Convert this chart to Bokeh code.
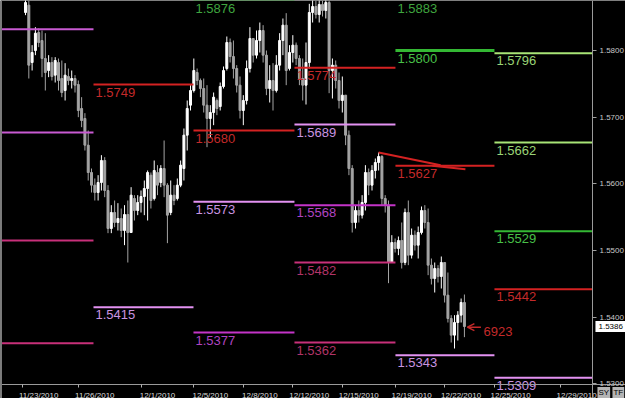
from bokeh.plotting import figure
from bokeh.models import (Range1d, FixedTicker, PrintfTickFormatter, ColumnDataSource,
                          Label, Arrow, OpenHead, Span)
from bokeh.core.properties import value
from bokeh.embed import file_html
from bokeh.resources import INLINE

# ---------------- data (4-hour bars) ----------------
opens = [1.5857, 1.5868, 1.5782, 1.5800, 1.5827, 1.5815, 1.5788, 1.5770, 1.5782, 1.5763,
         1.5782, 1.5758, 1.5740, 1.5761, 1.5755, 1.5758, 1.5749, 1.5713, 1.5698, 1.5658,
         1.5617, 1.5598, 1.5587, 1.5602, 1.5635, 1.5590, 1.5533, 1.5557, 1.5542, 1.5548,
         1.5530, 1.5554, 1.5527, 1.5578, 1.5560, 1.5572, 1.5581, 1.5593, 1.5613, 1.5578,
         1.5617, 1.5602, 1.5623, 1.5598, 1.5557, 1.5583, 1.5578, 1.5598, 1.5623, 1.5673,
         1.5718, 1.5740, 1.5767, 1.5755, 1.5743, 1.5718, 1.5698, 1.5707, 1.5725, 1.5716,
         1.5746, 1.5773, 1.5812, 1.5791, 1.5773, 1.5748, 1.5710, 1.5725, 1.5773, 1.5818,
         1.5793, 1.5815, 1.5830, 1.5793, 1.5743, 1.5755, 1.5740, 1.5778, 1.5815, 1.5838,
         1.5773, 1.5797, 1.5808, 1.5788, 1.5758, 1.5748, 1.5782, 1.5857, 1.5866, 1.5854,
         1.5869, 1.5860, 1.5872, 1.5770, 1.5778, 1.5755, 1.5725, 1.5733, 1.5673, 1.5623,
         1.5542, 1.5560, 1.5553, 1.5572, 1.5617, 1.5598, 1.5620, 1.5632, 1.5641, 1.5578,
         1.5568, 1.5482, 1.5512, 1.5503, 1.5515, 1.5482, 1.5557, 1.5493, 1.5523, 1.5508,
         1.5527, 1.5560, 1.5542, 1.5478, 1.5458, 1.5473, 1.5461, 1.5482, 1.5433, 1.5398,
         1.5373, 1.5392, 1.5403, 1.5422]
highs = [1.5880, 1.5875, 1.5808, 1.5835, 1.5833, 1.5830, 1.5826, 1.5793, 1.5790, 1.5790,
         1.5788, 1.5785, 1.5781, 1.5773, 1.5770, 1.5763, 1.5755, 1.5730, 1.5706, 1.5680,
         1.5623, 1.5608, 1.5613, 1.5643, 1.5640, 1.5598, 1.5568, 1.5575, 1.5571, 1.5563,
         1.5568, 1.5575, 1.5595, 1.5583, 1.5583, 1.5590, 1.5605, 1.5620, 1.5617, 1.5635,
         1.5628, 1.5628, 1.5665, 1.5601, 1.5605, 1.5598, 1.5608, 1.5635, 1.5683, 1.5725,
         1.5748, 1.5788, 1.5773, 1.5758, 1.5758, 1.5748, 1.5718, 1.5737, 1.5728, 1.5752,
         1.5776, 1.5821, 1.5818, 1.5815, 1.5778, 1.5761, 1.5733, 1.5785, 1.5835, 1.5818,
         1.5830, 1.5842, 1.5838, 1.5800, 1.5778, 1.5781, 1.5793, 1.5826, 1.5848, 1.5856,
         1.5808, 1.5823, 1.5812, 1.5793, 1.5788, 1.5812, 1.5870, 1.5878, 1.5875, 1.5880,
         1.5875, 1.5881, 1.5875, 1.5788, 1.5785, 1.5767, 1.5761, 1.5733, 1.5680, 1.5628,
         1.5568, 1.5575, 1.5583, 1.5628, 1.5623, 1.5628, 1.5638, 1.5647, 1.5643, 1.5583,
         1.5575, 1.5523, 1.5518, 1.5521, 1.5542, 1.5563, 1.5575, 1.5533, 1.5530, 1.5536,
         1.5566, 1.5568, 1.5563, 1.5488, 1.5482, 1.5478, 1.5491, 1.5482, 1.5467, 1.5403,
         1.5403, 1.5409, 1.5428, 1.5434]
lows = [1.5853, 1.5758, 1.5770, 1.5793, 1.5805, 1.5760, 1.5740, 1.5760, 1.5755, 1.5752,
        1.5740, 1.5730, 1.5725, 1.5748, 1.5743, 1.5737, 1.5700, 1.5685, 1.5650, 1.5605,
        1.5587, 1.5575, 1.5575, 1.5590, 1.5580, 1.5526, 1.5526, 1.5535, 1.5530, 1.5520,
        1.5508, 1.5482, 1.5527, 1.5545, 1.5553, 1.5557, 1.5553, 1.5545, 1.5563, 1.5575,
        1.5583, 1.5595, 1.5580, 1.5511, 1.5553, 1.5568, 1.5575, 1.5595, 1.5605, 1.5650,
        1.5710, 1.5737, 1.5748, 1.5730, 1.5707, 1.5655, 1.5670, 1.5688, 1.5703, 1.5710,
        1.5743, 1.5770, 1.5782, 1.5758, 1.5737, 1.5698, 1.5688, 1.5719, 1.5767, 1.5782,
        1.5788, 1.5797, 1.5782, 1.5733, 1.5722, 1.5710, 1.5737, 1.5770, 1.5793, 1.5748,
        1.5770, 1.5782, 1.5778, 1.5748, 1.5725, 1.5719, 1.5773, 1.5842, 1.5848, 1.5842,
        1.5851, 1.5848, 1.5736, 1.5728, 1.5743, 1.5713, 1.5707, 1.5658, 1.5613, 1.5527,
        1.5533, 1.5542, 1.5548, 1.5560, 1.5583, 1.5590, 1.5608, 1.5620, 1.5568, 1.5557,
        1.5451, 1.5482, 1.5497, 1.5493, 1.5473, 1.5478, 1.5478, 1.5488, 1.5500, 1.5488,
        1.5524, 1.5533, 1.5463, 1.5449, 1.5437, 1.5452, 1.5443, 1.5422, 1.5392, 1.5362,
        1.5353, 1.5365, 1.5392, 1.5370]
closes = [1.5872, 1.5778, 1.5797, 1.5826, 1.5812, 1.5788, 1.5767, 1.5782, 1.5761, 1.5785,
          1.5755, 1.5737, 1.5763, 1.5755, 1.5758, 1.5748, 1.5710, 1.5695, 1.5658, 1.5617,
          1.5598, 1.5587, 1.5602, 1.5635, 1.5590, 1.5533, 1.5557, 1.5542, 1.5548, 1.5530,
          1.5554, 1.5527, 1.5583, 1.5560, 1.5572, 1.5581, 1.5593, 1.5617, 1.5575, 1.5620,
          1.5598, 1.5623, 1.5598, 1.5553, 1.5583, 1.5575, 1.5598, 1.5628, 1.5673, 1.5713,
          1.5740, 1.5770, 1.5755, 1.5743, 1.5718, 1.5698, 1.5707, 1.5730, 1.5713, 1.5746,
          1.5770, 1.5812, 1.5791, 1.5773, 1.5748, 1.5710, 1.5725, 1.5773, 1.5818, 1.5793,
          1.5815, 1.5830, 1.5793, 1.5743, 1.5755, 1.5740, 1.5778, 1.5815, 1.5838, 1.5770,
          1.5797, 1.5808, 1.5788, 1.5758, 1.5748, 1.5782, 1.5857, 1.5866, 1.5854, 1.5869,
          1.5860, 1.5872, 1.5770, 1.5778, 1.5755, 1.5725, 1.5733, 1.5673, 1.5623, 1.5542,
          1.5560, 1.5553, 1.5572, 1.5617, 1.5598, 1.5620, 1.5632, 1.5641, 1.5578, 1.5568,
          1.5482, 1.5512, 1.5503, 1.5515, 1.5482, 1.5557, 1.5493, 1.5523, 1.5508, 1.5527,
          1.5560, 1.5542, 1.5478, 1.5458, 1.5473, 1.5461, 1.5482, 1.5433, 1.5398, 1.5373,
          1.5392, 1.5403, 1.5422, 1.5386]
last_price = 1.5386

# date axis (bar-index positions of the date ticks)
date_labels = ["11/23/2010", "11/26/2010", "12/1/2010", "12/5/2010", "12/8/2010", "12/12/2010",
               "12/15/2010", "12/19/2010", "12/22/2010", "12/25/2010", "12/29/2010"]
date_ticks = [-1, 16, 35, 51, 66, 81, 96, 112, 127, 142, 162]
price_ticks = [1.53, 1.54, 1.55, 1.56, 1.57, 1.58]

# weekly pivot levels: week boundaries (bar index) and levels
week_bounds = [-7.6, 20.6, 50.9, 81.5, 112.1, 142.1, 171.8]
level_week = [0, 0, 0, 0, 1, 1, 2, 2, 2, 2, 3, 3, 3, 3, 3, 4, 4, 4, 4, 5, 5, 5, 5, 5]
level_price = [1.5832, 1.5677, 1.5515, 1.5361,
               1.5749, 1.5415,
               1.5876, 1.5680, 1.5573, 1.5377,
               1.5774, 1.5689, 1.5568, 1.5482, 1.5362,
               1.5883, 1.5800, 1.5627, 1.5343,
               1.5796, 1.5662, 1.5529, 1.5442, 1.5309]
level_kind = ["purple", "purple", "crimson", "crimson",
              "red", "violet",
              "dkgreen", "red", "violet", "magenta",
              "red", "violet", "magenta", "crimson", "crimson",
              "dkgreen", "green", "red", "violet",
              "lime", "lime", "green", "red", "violet"]
level_text = ["", "", "", "",
              "1.5749", "1.5415",
              "1.5876", "1.5680", "1.5573", "1.5377",
              "1.5774", "1.5689", "1.5568", "1.5482", "1.5362",
              "1.5883", "1.5800", "1.5627", "1.5343",
              "1.5796", "1.5662", "1.5529", "1.5442", "1.5309"]

# hand-drawn trend line and arrow annotation
trend_x = [107, 125.8]
trend_y = [1.5647, 1.5628]
trend2_x = [123.3, 133.3]
trend2_y = [1.5627, 1.5622]
note_text = "6923"
note_x = 138.8
note_y = 1.5378
arrow_x = [138.0, 133.9]
arrow_y = [1.5385, 1.5385]

# ---------------- layout & styles ----------------
LINE_COL = {"purple": "#c85ad2", "crimson": "#c8307a", "red": "#d42222", "violet": "#e392f2",
            "magenta": "#c434c8", "dkgreen": "#3aa83a", "green": "#34b834", "lime": "#a8e476"}
TEXT_COL = {"purple": "#c85ad2", "crimson": "#b23468", "red": "#c42a2a", "violet": "#c994e0",
            "magenta": "#b044c0", "dkgreen": "#3fa53f", "green": "#48c048", "lime": "#9ad476"}
FONT = value("Liberation Sans")
W, H = 625, 398
PX_PER_BAR = 3.3
PX_PER_PRICE = 1 / 0.00015
X0 = -7.58                      # left edge of the chart
Y1 = 1.5875                     # top edge of the chart
AXIS_X = week_bounds[-1]        # price axis position (right end of the chart)
AXIS_Y = Y1 - 384 / PX_PER_PRICE  # time axis position
X1 = X0 + W / PX_PER_BAR
Y0 = Y1 - H / PX_PER_PRICE

p = figure(width=W, height=H, output_backend="svg", toolbar_location=None,
           x_range=Range1d(X0, X1), y_range=Range1d(Y0, Y1),
           y_axis_location="right", min_border=0,
           background_fill_color="black", border_fill_color="black",
           outline_line_color=None)
p.grid.visible = False

# candles
xs = list(range(len(opens)))
colors = ["#ffffff" if c >= o else "#a4a4a4" for o, c in zip(opens, closes)]
src = ColumnDataSource(dict(x=xs, high=highs, low=lows,
                            top=[max(o, c) for o, c in zip(opens, closes)],
                            bottom=[min(o, c) for o, c in zip(opens, closes)],
                            color=colors))
p.segment(x0="x", y0="low", x1="x", y1="high", line_color="color", line_width=1, source=src)
p.vbar(x="x", width=0.6, top="top", bottom="bottom", fill_color="color",
       line_color="color", line_width=1, source=src)

# pivot levels
lsrc = ColumnDataSource(dict(
    x0=[week_bounds[w] for w in level_week],
    x1=[week_bounds[w + 1] for w in level_week],
    y=level_price,
    lc=[LINE_COL[k] for k in level_kind],
    lw=[3 if t == "1.5800" else 2 for t in level_text]))
p.segment(x0="x0", y0="y", x1="x1", y1="y", line_color="lc", line_width="lw", source=lsrc)

ids = [i for i, t in enumerate(level_text) if t]
tsrc = ColumnDataSource(dict(
    x=[week_bounds[level_week[i]] for i in ids],
    y=[min(level_price[i], Y1) for i in ids],
    text=[level_text[i] for i in ids],
    tc=[TEXT_COL[level_kind[i]] for i in ids]))
p.text(x="x", y="y", text="text", text_color="tc", source=tsrc, text_font=FONT,
       text_font_size="13px", text_baseline="top", x_offset=2, y_offset=3)

# trend line, arrow and note
p.line(trend_x, trend_y, line_color="#d42222", line_width=2)
p.line(trend2_x, trend2_y, line_color="#d42222", line_width=2)
p.add_layout(Arrow(end=OpenHead(size=7, line_color="#c42a2a", line_width=1.5),
                   x_start=arrow_x[0], y_start=arrow_y[0], x_end=arrow_x[1], y_end=arrow_y[1],
                   line_color="#c42a2a", line_width=1.5))
p.text(x=[note_x], y=[note_y], text=[note_text], text_color="#c42a2a", text_font=FONT,
       text_font_size="13px", text_baseline="middle")

# left frame edge
p.add_layout(Span(location=X0, dimension="height", line_color="#7a7a7a", line_width=3))

# x axis (drawn at the bottom of the chart area)
xa = p.xaxis[0]
xa.fixed_location = AXIS_Y
centers = [t + 5 for t in date_ticks]
xa.ticker = FixedTicker(ticks=centers, minor_ticks=date_ticks)
xa.major_label_overrides = {c: lab for c, lab in zip(centers, date_labels)}
xa.major_tick_line_color = None
xa.major_tick_in = 0
xa.major_tick_out = 0
xa.minor_tick_line_color = "#b0b0b0"
xa.minor_tick_in = 0
xa.minor_tick_out = 3
xa.axis_line_color = "#9a9a9a"
xa.major_label_text_color = "#dcdcdc"
xa.major_label_text_font = "Liberation Sans"
xa.major_label_text_font_size = "8px"
xa.major_label_standoff = 3

# y axis (drawn at the right end of the chart area)
ya = p.yaxis[0]
ya.fixed_location = AXIS_X
ya.ticker = FixedTicker(ticks=price_ticks)
ya.formatter = PrintfTickFormatter(format="%.4f")
ya.major_tick_in = 0
ya.major_tick_out = 4
ya.major_tick_line_color = "#a0a0a0"
ya.minor_tick_line_color = None
ya.axis_line_color = "#9a9a9a"
ya.major_label_text_color = "#c8c8c8"
ya.major_label_text_font = "Liberation Sans"
ya.major_label_text_font_size = "8px"
ya.major_label_standoff = 3

# current price tag and toolbar buttons
p.add_layout(Label(x=AXIS_X, y=last_price, x_offset=3, text=f"{last_price:.4f}",
                   text_color="black", text_font_size="8px", text_font="Liberation Sans",
                   text_baseline="middle", background_fill_color="white", padding=3))
p.add_layout(Label(x=AXIS_X, y=AXIS_Y, x_offset=5, y_offset=-8, text="SY",
                   text_color="black", text_font_size="8px", text_font="Liberation Sans",
                   text_baseline="middle", background_fill_color="#b4b4b4", padding=1))
p.add_layout(Label(x=AXIS_X, y=AXIS_Y, x_offset=20, y_offset=-8, text="TF",
                   text_color="black", text_font_size="8px", text_font="Liberation Sans",
                   text_baseline="middle", background_fill_color="#b4b4b4", padding=1))

open("out.html", "w").write(file_html(p, INLINE))
